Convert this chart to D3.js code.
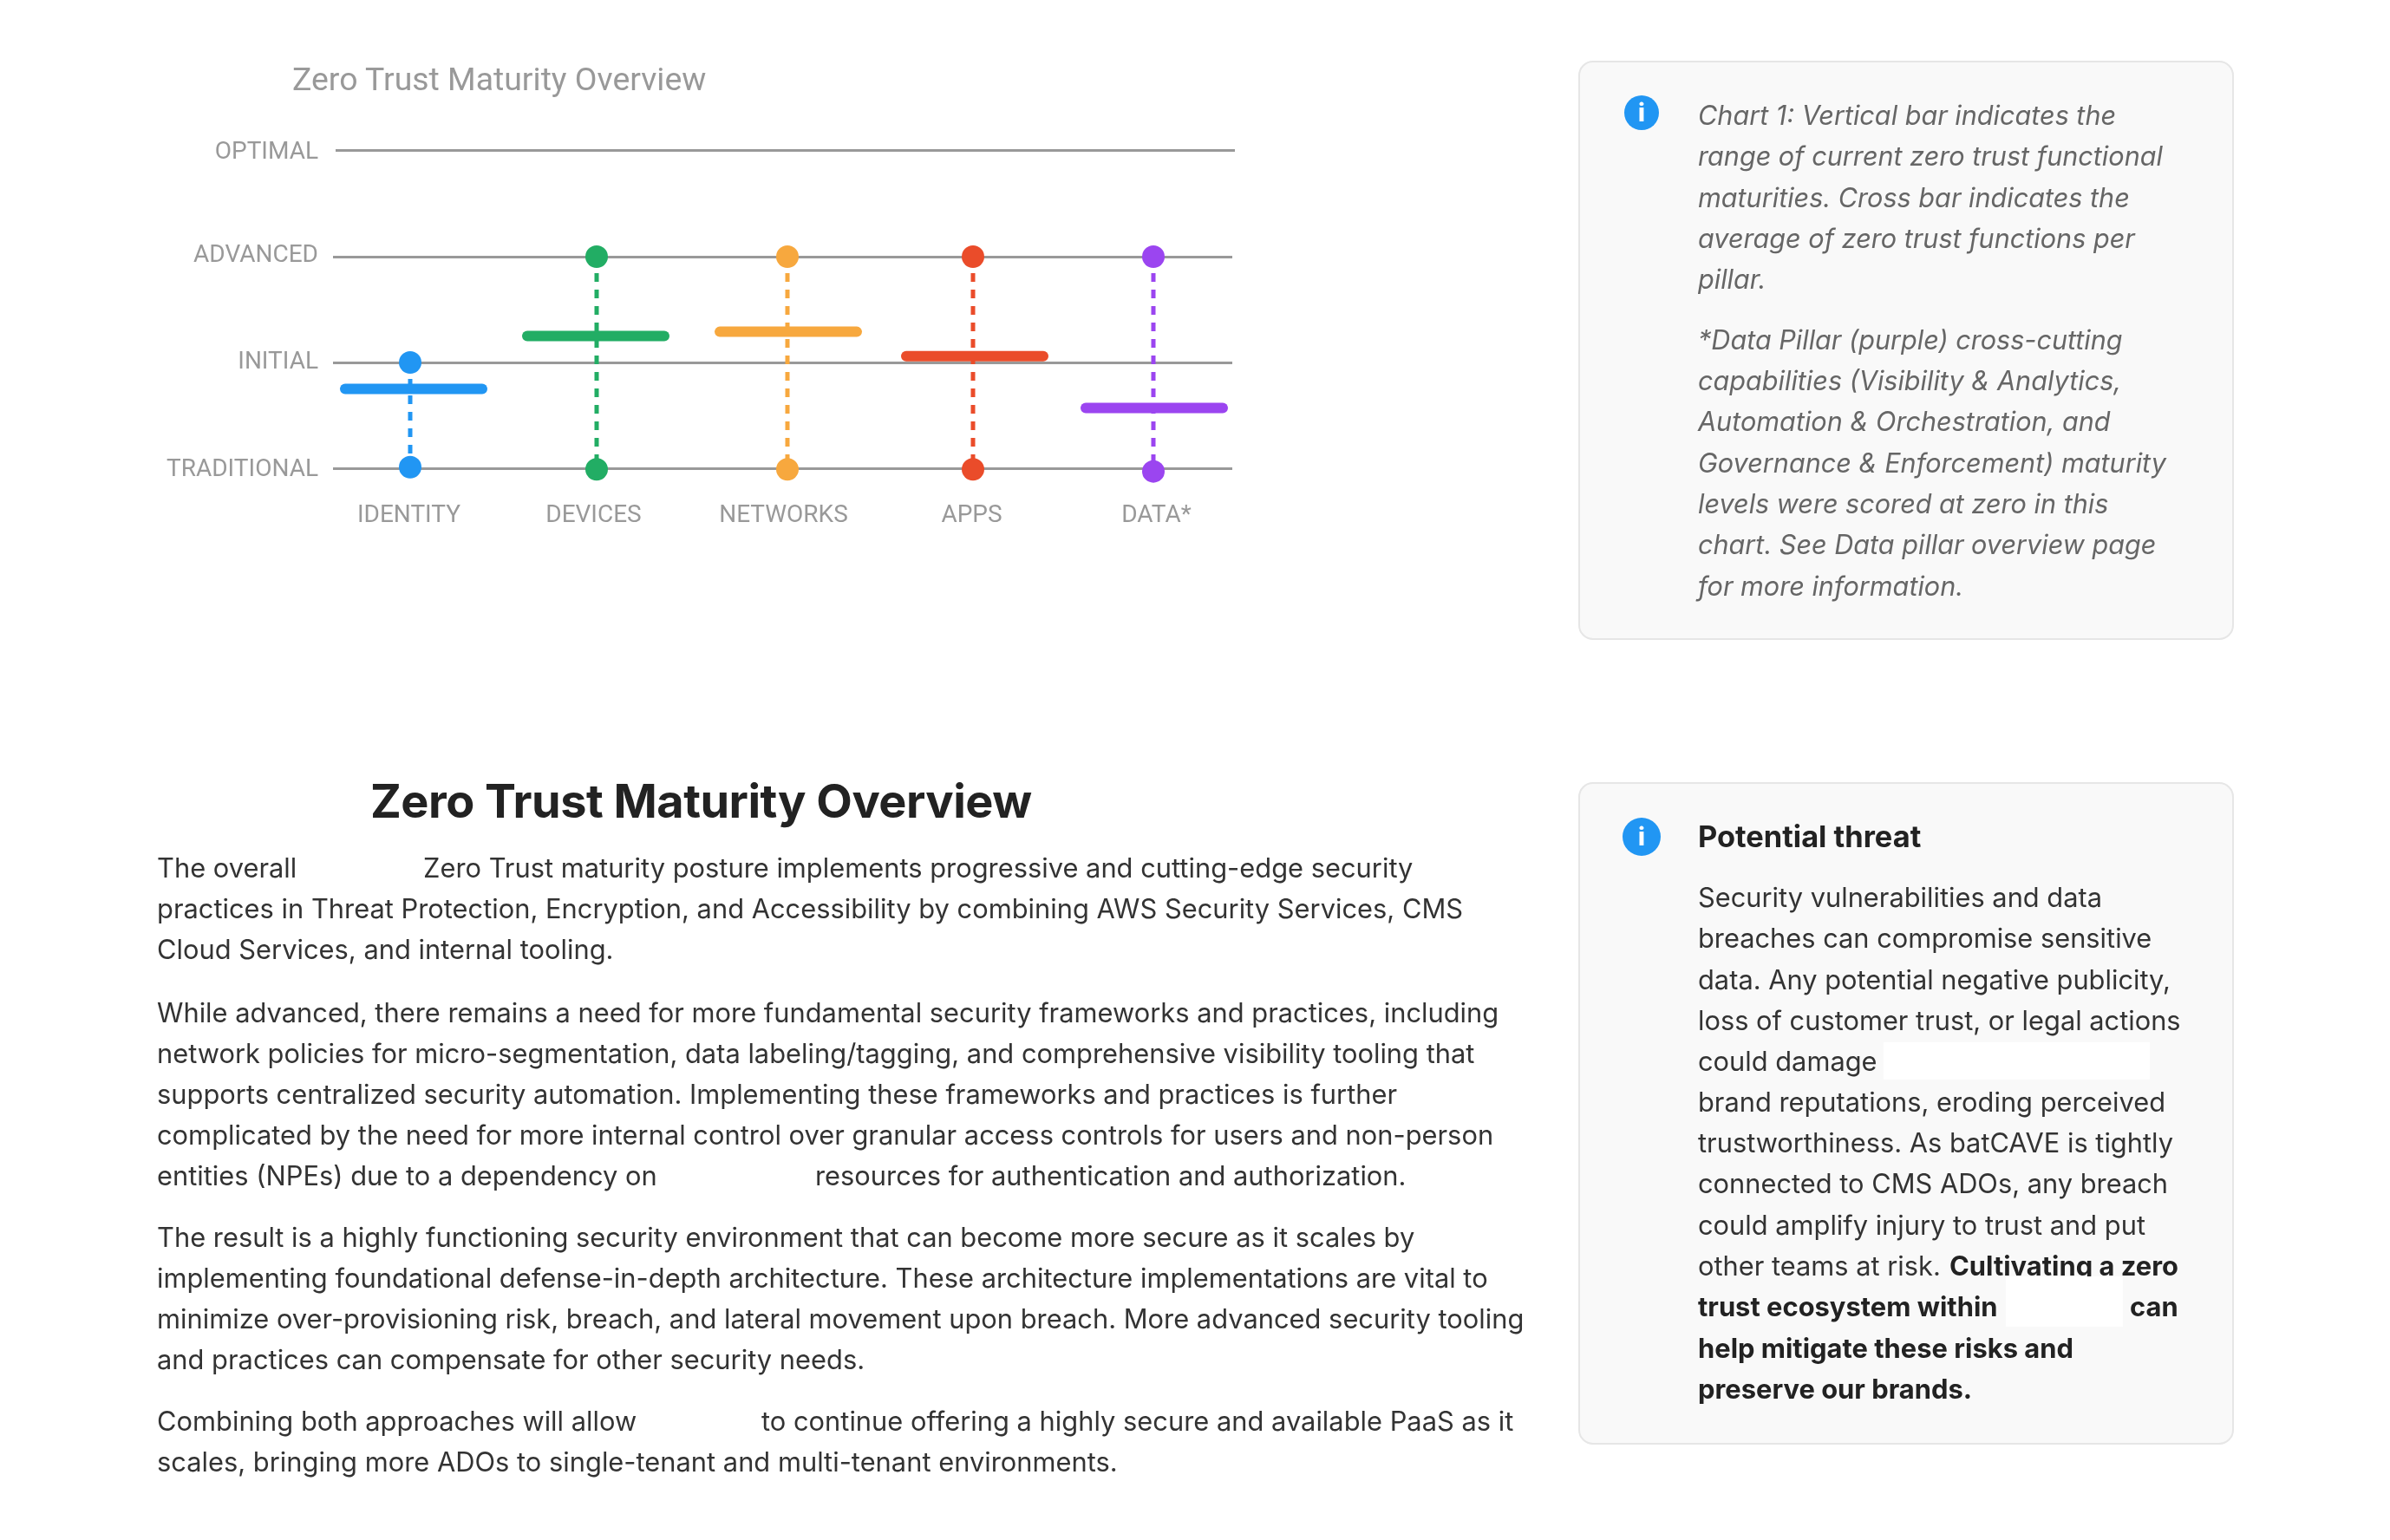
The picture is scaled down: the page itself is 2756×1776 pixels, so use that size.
<!DOCTYPE html>
<html><head><meta charset="utf-8">
<script src="https://cdn.jsdelivr.net/npm/d3@7"></script>
<style>html,body{margin:0;padding:0;background:#fff}svg{display:block;filter:blur(0.6px)}</style>
</head><body><svg id="c" width="2756" height="1776"></svg>
<script>
const pillars=["IDENTITY","DEVICES","NETWORKS","APPS","DATA*"];
const levels=["TRADITIONAL","INITIAL","ADVANCED","OPTIMAL"];
const rangeLow=[0.01,-0.01,-0.01,-0.01,-0.03];
const rangeHigh=[1,2,2,2,2];
const average=[0.75,1.25,1.29,1.06,0.57];
const colors=["#2196F3","#22AD64","#F7A83E","#EA4C2A","#9B45F0"];

const svg=d3.select("#c");
const y=d3.scaleLinear().domain([0,3]).range([540,174]);
const x=d3.scaleOrdinal().domain(pillars).range([473,688,908,1122,1330]);
const xBar=d3.scaleOrdinal().domain(pillars).range([477,687,909,1124,1331]);
const xLabel=d3.scaleOrdinal().domain(pillars).range([471,684,903,1120,1333]);
const color=d3.scaleOrdinal().domain(pillars).range(colors);
const chartFont="Roboto, sans-serif", textFont="Inter, sans-serif";

svg.append("text").attr("x",337).attr("y",104).attr("fill","#999").attr("font-family",chartFont).attr("font-size",37.4).text("Zero Trust Maturity Overview");

const yAxis=d3.axisLeft(y).tickValues([0,1,2,3]).tickFormat(i=>levels[i]).tickSize(-1037).tickPadding(17);
const ya=svg.append("g").attr("transform","translate(384,0)").call(yAxis);
ya.select(".domain").remove();
ya.selectAll("line").attr("stroke","#999").attr("stroke-width",3);
ya.selectAll("text").attr("fill","#999").attr("font-family",chartFont).attr("font-size",28)
  .attr("transform",(d,i)=>i===2?"translate(0,-3)":i===1?"translate(0,-2)":null);
ya.selectAll(".tick").filter(d=>d===3).select("line").attr("transform","translate(3,-1)");

const xAxis=d3.axisBottom(xLabel).tickSize(0).tickPadding(0);
const xa=svg.append("g").attr("transform","translate(0,577)").call(xAxis);
xa.select(".domain").remove();
xa.selectAll("text").attr("fill","#999").attr("font-family",chartFont).attr("font-size",28).attr("dy",25);

const rows=pillars.map((p,i)=>({p,lo:rangeLow[i],hi:rangeHigh[i],avg:average[i]}));
svg.append("g").selectAll("line").data(rows).join("line")
 .attr("x1",d=>x(d.p)).attr("x2",d=>x(d.p)).attr("y1",d=>y(d.hi)).attr("y2",d=>y(d.lo))
 .attr("stroke",d=>color(d.p)).attr("stroke-width",5).attr("stroke-dasharray","10 9");
svg.append("g").selectAll("rect").data(rows).join("rect")
 .attr("x",d=>xBar(d.p)-85).attr("y",d=>y(d.avg)-6).attr("width",170).attr("height",12).attr("rx",6)
 .attr("fill",d=>color(d.p));
const dots=rows.flatMap(d=>[{p:d.p,v:d.lo},{p:d.p,v:d.hi}]);
svg.append("g").selectAll("circle").data(dots).join("circle")
 .attr("cx",d=>x(d.p)).attr("cy",d=>y(d.v)).attr("r",13).attr("fill",d=>color(d.p));

function panel(top,h){svg.append("rect").attr("x",1821).attr("y",top).attr("width",754).attr("height",h).attr("rx",16)
 .attr("fill","#f9f9f9").attr("stroke","#e6e6e6").attr("stroke-width",2);}
function info(cy,r){svg.append("circle").attr("cx",1893).attr("cy",cy).attr("r",r).attr("fill","#2196F3");
 svg.append("text").attr("x",1893).attr("y",cy+10).attr("text-anchor","middle").attr("fill","#fff").attr("font-family",textFont).attr("font-weight",800).attr("font-size",28).text("i");}
function line(x,yy,t,o={}){svg.append("text").attr("x",x).attr("y",yy).attr("fill",o.fill||"#333").attr("font-family",textFont)
 .attr("font-size",o.size||30.85).attr("font-weight",o.weight||400).attr("font-style",o.style||"normal").attr("letter-spacing",o.ls||0).text(t);}

panel(71,666);panel(903,762);
info(130,20);info(965,22);

const note=[[144,"Chart 1: Vertical bar indicates the"],[191,"range of current zero trust functional"],[239,"maturities. Cross bar indicates the"],[286,"average of zero trust functions per"],[333,"pillar."],
[403,"*Data Pillar (purple) cross-cutting"],[450,"capabilities (Visibility & Analytics,"],[497,"Automation & Orchestration, and"],[545,"Governance & Enforcement) maturity"],[592,"levels were scored at zero in this"],[639,"chart. See Data pillar overview page"],[687,"for more information."]];
note.forEach(([b,t])=>line(1958,b,t,{fill:"#666",style:"italic",size:30.6}));

line(1958,977,"Potential threat",{fill:"#222",weight:700,size:34.4});
const threat=[[1046,"Security vulnerabilities and data"],[1093,"breaches can compromise sensitive"],[1141,"data. Any potential negative publicity,"],[1188,"loss of customer trust, or legal actions"],[1235,"could damage"],[1282,"brand reputations, eroding perceived"],[1329,"trustworthiness. As batCAVE is tightly"],[1376,"connected to CMS ADOs, any breach"],[1424,"could amplify injury to trust and put"],[1471,"other teams at risk."]];
threat.forEach(([b,t])=>line(1958,b,t,{size:30.8}));
const B={fill:"#222",weight:700,size:30.9};
line(2248,1471,"Cultivating a zero",B);line(1958,1518,"trust ecosystem within",B);line(2456,1518,"can",B);
line(1958,1566,"help mitigate these risks and",B);line(1958,1613,"preserve our brands.",B);
svg.append("rect").attr("x",2313).attr("y",1472).attr("width",135).attr("height",58).attr("fill","#fff");
svg.append("rect").attr("x",2172).attr("y",1202).attr("width",307).attr("height",43).attr("fill","#fff");

line(427,943,"Zero Trust Maturity Overview",{fill:"#222",weight:700,size:54,ls:-0.5});
const body=[[181,1012,"The overall"],[488,1012,"Zero Trust maturity posture implements progressive and cutting-edge security"],[181,1059,"practices in Threat Protection, Encryption, and Accessibility by combining AWS Security Services, CMS"],[181,1106,"Cloud Services, and internal tooling."],
[181,1179,"While advanced, there remains a need for more fundamental security frameworks and practices, including"],[181,1226,"network policies for micro-segmentation, data labeling/tagging, and comprehensive visibility tooling that"],[181,1273,"supports centralized security automation. Implementing these frameworks and practices is further"],[181,1320,"complicated by the need for more internal control over granular access controls for users and non-person"],[181,1367,"entities (NPEs) due to a dependency on"],[940,1367,"resources for authentication and authorization."],
[181,1438,"The result is a highly functioning security environment that can become more secure as it scales by"],[181,1485,"implementing foundational defense-in-depth architecture. These architecture implementations are vital to"],[181,1532,"minimize over-provisioning risk, breach, and lateral movement upon breach. More advanced security tooling"],[181,1579,"and practices can compensate for other security needs."],
[181,1650,"Combining both approaches will allow"],[878,1650,"to continue offering a highly secure and available PaaS as it"],[181,1697,"scales, bringing more ADOs to single-tenant and multi-tenant environments."]];
body.forEach(([x0,b,t])=>line(x0,b,t,{size:30.85}));
</script></body></html>
